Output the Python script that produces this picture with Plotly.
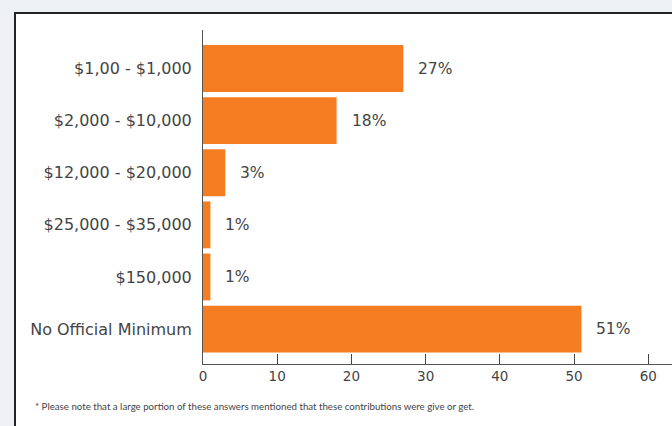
import plotly.graph_objects as go

# Minimum contribution ranges and share of answers (%)
categories = [
    "$1,00 - $1,000",
    "$2,000 - $10,000",
    "$12,000 - $20,000",
    "$25,000 - $35,000",
    "$150,000",
    "No Official Minimum",
]
shares = [27, 18, 3, 1, 1, 51]
x_ticks = [0, 10, 20, 30, 40, 50, 60]
footnote = ("* Please note that a large portion of these answers mentioned "
            "that these contributions were give or get.")

ORANGE = "#F47D22"
TEXT = "#444444"
FONT = "Century Gothic, DejaVu Sans, sans-serif"
NOTE_FONT = "Lato, sans-serif"

W, H = 672, 426
ML, MR, MT, MB = 203, 0, 30, 62
pw, ph = W - ML - MR, H - MT - MB


def px_to_paper_x(px):
    return (px - ML) / pw


def px_to_paper_y(py):
    return (H - MB - py) / ph


fig = go.Figure()
fig.add_trace(go.Bar(
    x=shares,
    y=categories,
    orientation="h",
    marker=dict(color=ORANGE, line=dict(width=0)),
    hoverinfo="skip",
))

# value labels to the right of each bar
for cat, val in zip(categories, shares):
    fig.add_annotation(
        x=val, y=cat, xref="x", yref="y",
        text=f"{val}%", showarrow=False,
        xanchor="left", xshift=13,
        font=dict(family=FONT, size=15.5, color=TEXT),
    )

# footnote
fig.add_annotation(
    x=px_to_paper_x(33), y=px_to_paper_y(406), xref="paper", yref="paper",
    text=footnote, showarrow=False, xanchor="left", yanchor="middle",
    font=dict(family=NOTE_FONT, size=9.7, color=TEXT),
)

# framed white panel
fig.add_shape(
    type="rect", xref="paper", yref="paper", layer="below",
    x0=px_to_paper_x(15), x1=px_to_paper_x(W + 20),
    y0=px_to_paper_y(H + 20), y1=px_to_paper_y(13),
    fillcolor="white", line=dict(color="#222222", width=2),
)

fig.update_layout(
    width=W, height=H,
    margin=dict(l=ML, r=MR, t=MT, b=MB),
    paper_bgcolor="#EEF1F4",
    plot_bgcolor="rgba(0,0,0,0)",
    bargap=0.1,
    showlegend=False,
    font=dict(family=FONT, color=TEXT),
    xaxis=dict(
        range=[0, 63.2],
        tickvals=x_ticks,
        ticks="inside", ticklen=10, tickcolor="#444444", tickwidth=1,
        showline=True, linecolor="#555555", linewidth=1,
        showgrid=False, zeroline=False,
        tickfont=dict(family=FONT, size=13.5, color=TEXT),
    ),
    yaxis=dict(
        categoryorder="array", categoryarray=categories,
        range=[5.67, -0.74],
        showline=True, linecolor="#555555", linewidth=1,
        showgrid=False, zeroline=False, ticks="",
        ticklabelstandoff=7,
        tickfont=dict(family=FONT, size=16, color=TEXT),
    ),
)

fig.write_html("out.html")
